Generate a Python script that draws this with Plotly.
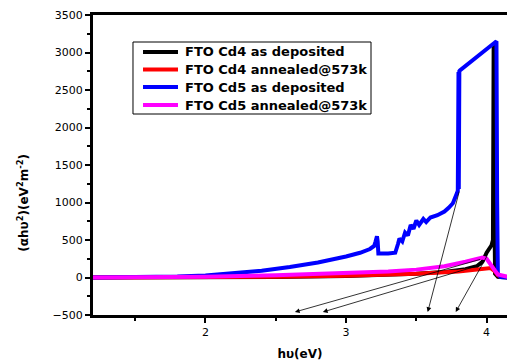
import plotly.graph_objects as go

# ---- data ----
cd4_dep_x = [1.2, 2.0, 2.5, 3.0, 3.3, 3.5, 3.7, 3.85, 3.93, 3.97, 4.0, 4.02, 4.035, 4.045, 4.05, 4.055, 4.06, 4.08, 4.15]
cd4_dep_y = [0, 2, 8, 20, 35, 50, 75, 110, 150, 210, 330, 400, 430, 500, 3100, 1000, 50, 10, 0]

cd4_ann_x = [1.2, 2.0, 2.5, 3.0, 3.5, 3.8, 3.95, 4.0, 4.03, 4.06, 4.08, 4.1, 4.15]
cd4_ann_y = [0, 3, 10, 25, 50, 80, 110, 125, 125, 80, 30, 10, 5]

cd5_dep_x = [1.2, 1.5, 1.8, 2.0, 2.2, 2.4, 2.6, 2.8, 3.0, 3.1, 3.17, 3.2, 3.21, 3.22, 3.225, 3.23,
             3.3, 3.35, 3.37, 3.38, 3.40, 3.42, 3.44, 3.46, 3.48, 3.50, 3.52, 3.55, 3.57, 3.60,
             3.65, 3.70, 3.73, 3.76, 3.79, 3.795, 3.80, 3.802, 3.806, 3.81, 4.07, 4.075, 4.08, 4.1, 4.15]
cd5_dep_y = [0, 3, 12, 28, 55, 90, 140, 200, 280, 330, 380, 420, 480, 550, 480, 320,
             320, 330, 450, 520, 480, 600, 560, 700, 650, 760, 700, 780, 740, 800,
             830, 880, 930, 990, 1130, 1160, 2740, 1180, 2750, 2760, 3150, 1000, 50, 5, 0]

cd5_ann_x = [1.2, 1.8, 2.0, 2.5, 3.0, 3.3, 3.5, 3.7, 3.85, 3.93, 3.97, 4.0, 4.03, 4.06, 4.08, 4.12, 4.15]
cd5_ann_y = [0, 5, 10, 30, 60, 80, 105, 150, 210, 255, 265, 250, 180, 90, 40, 15, 10]

series_names = ["FTO Cd4 as deposited", "FTO Cd4 annealed@573k",
                "FTO Cd5 as deposited", "FTO Cd5 annealed@573k"]
series_colors = ["#000000", "#ff0000", "#0000ff", "#ff00ff"]

# tangent arrows: (tail_x, tail_y, head_x, head_y)
arrow_tail_x = [3.965, 3.979, 3.808, 4.007]
arrow_tail_y = [247, 180, 1167, 300]
arrow_head_x = [2.636, 2.835, 3.581, 3.780]
arrow_head_y = [-460, -460, -460, -460]

x_range = [1.2, 4.145]
y_range = [-500, 3500]

FONT = "DejaVu Sans, Liberation Sans, Arial"

fig = go.Figure()
all_x = [cd4_dep_x, cd4_ann_x, cd5_dep_x, cd5_ann_x]
all_y = [cd4_dep_y, cd4_ann_y, cd5_dep_y, cd5_ann_y]
for i in range(4):
    fig.add_trace(go.Scatter(x=all_x[i], y=all_y[i], mode="lines", name=series_names[i],
                             line=dict(color=series_colors[i], width=4), showlegend=False))

for tx, ty, hx, hy in zip(arrow_tail_x, arrow_tail_y, arrow_head_x, arrow_head_y):
    fig.add_annotation(x=hx, y=hy, ax=tx, ay=ty, xref="x", yref="y", axref="x", ayref="y",
                       showarrow=True, arrowhead=2, arrowsize=1.2, arrowwidth=0.8,
                       arrowcolor="black", text="")

# manual legend box (paper coordinates)
fig.add_shape(type="rect", xref="paper", yref="paper", x0=0.0966, x1=0.6715, y0=0.67, y1=0.91,
              line=dict(color="black", width=1), fillcolor="white", layer="above")
row_y = [0.8767, 0.8183, 0.76, 0.70]
for i in range(4):
    fig.add_shape(type="line", xref="paper", yref="paper", x0=0.1208, x1=0.2053,
                  y0=row_y[i], y1=row_y[i], line=dict(color=series_colors[i], width=4), layer="above")
    fig.add_annotation(text="<b>" + series_names[i] + "</b>", xref="paper", yref="paper",
                       x=0.2174, y=row_y[i], xanchor="left", yanchor="middle", showarrow=False,
                       font=dict(family=FONT, size=13, color="black"))

fig.add_annotation(text="<b>(αhυ<sup>2</sup>)(eV<sup>2</sup>m<sup>-2</sup>)</b>", textangle=-90,
                   xref="paper", yref="paper", x=-0.17, y=0.373, xanchor="center", yanchor="middle",
                   showarrow=False, font=dict(family=FONT, size=12, color="black"))

fig.update_layout(
    width=507, height=362,
    margin=dict(l=93, r=0, t=15, b=47),
    paper_bgcolor="white", plot_bgcolor="white",
    font=dict(family=FONT, size=11, color="black"),
    showlegend=False,
    xaxis=dict(range=x_range, showgrid=False, zeroline=False, showline=True, linewidth=3,
               linecolor="black", mirror=True, ticks="outside", ticklen=5, tickwidth=2,
               tickcolor="black", tickvals=[2, 3, 4],
               minor=dict(tickvals=[1.5, 2.5, 3.5], ticks="outside", ticklen=3, tickwidth=2, tickcolor="black"),
               title=dict(text="<b>hυ(eV)</b>", font=dict(size=12), standoff=12)),
    yaxis=dict(range=y_range, showgrid=False, zeroline=False, showline=True, linewidth=3,
               linecolor="black", mirror=False, ticks="outside", ticklen=5, tickwidth=2,
               tickcolor="black", tickvals=[-500, 0, 500, 1000, 1500, 2000, 2500, 3000, 3500],
               minor=dict(dtick=250, ticks="outside", ticklen=3, tickwidth=2, tickcolor="black")),
)

fig.write_html("out.html")
